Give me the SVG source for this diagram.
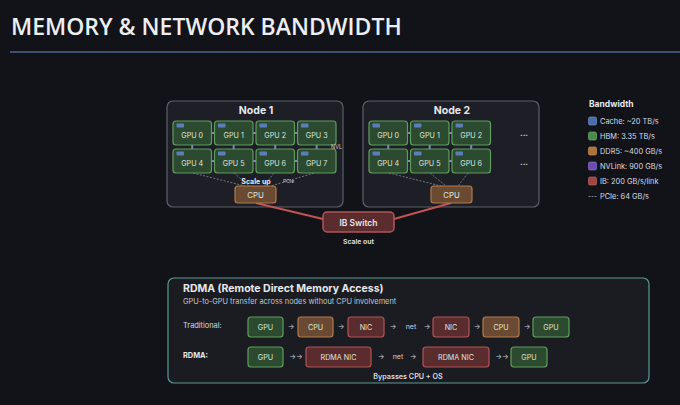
<svg xmlns="http://www.w3.org/2000/svg" width="680" height="405" viewBox="0 0 680 405">
<style>
text{font-family:Inter,"Liberation Sans",sans-serif;fill:#e6e8ec}
.title{font-family:"Open Sans","Noto Sans",sans-serif;font-size:23px;font-weight:600;fill:#eceef2}
.node{fill:#1e1f26;stroke:#5c6068;stroke-width:1.2}
.nt{font-size:10.5px;font-weight:700;text-anchor:middle}
.gpu{fill:#2b4a30;stroke:#5f9e5c;stroke-width:1.2}
.gt{font-size:7.2px;text-anchor:middle;fill:#dfe6df}
.mem{fill:#5a7fb8}
.nvl{stroke:#7f86c8;stroke-width:2}
.pcie{stroke:#8a8d95;stroke-width:0.8;stroke-dasharray:2 1.5;fill:none}
.cpu{fill:#6a4a32;stroke:#b07a4c;stroke-width:1.2}
.nic{fill:#5a2c2e;stroke:#b25456;stroke-width:1.2}
.ib{stroke:#c05456;stroke-width:2;fill:none}
.small{font-size:7.2px;text-anchor:middle}
.lg{font-size:7.4px;fill:#d8dbe0}
.sw{stroke-width:1;}
.arr{font-size:7px;fill:#d0d3d8;text-anchor:middle}
</style>
<rect width="680" height="405" fill="#121319"/>
<text class="title" x="11" y="35">MEMORY &amp; NETWORK BANDWIDTH</text>
<line x1="10" y1="52" x2="680" y2="52" stroke="#4e6590" stroke-width="1.5"/>

<g id="node1">
<rect class="node" x="167" y="101" width="176" height="106" rx="6"/>
<text class="nt" x="256" y="114">Node 1</text>
</g>
<g id="node2">
<rect class="node" x="363" y="101" width="176" height="106" rx="6"/>
<text class="nt" x="452" y="114">Node 2</text>
</g>

<g id="connectors">
<!-- NVLink node1 -->
<line class="nvl" x1="211.5" y1="133" x2="214.5" y2="133"/>
<line class="nvl" x1="253" y1="133" x2="256" y2="133"/>
<line class="nvl" x1="294.5" y1="133" x2="297.5" y2="133"/>
<line class="nvl" x1="211.5" y1="161" x2="214.5" y2="161"/>
<line class="nvl" x1="253" y1="161" x2="256" y2="161"/>
<line class="nvl" x1="294.5" y1="161" x2="297.5" y2="161"/>
<line class="nvl" x1="192.2" y1="145" x2="192.2" y2="149"/>
<line class="nvl" x1="233.7" y1="145" x2="233.7" y2="149"/>
<line class="nvl" x1="275.2" y1="145" x2="275.2" y2="149"/>
<line class="nvl" x1="316.7" y1="145" x2="316.7" y2="149"/>
<!-- NVLink node2 -->
<line class="nvl" x1="407.5" y1="133" x2="410.5" y2="133"/>
<line class="nvl" x1="449" y1="133" x2="452" y2="133"/>
<line class="nvl" x1="407.5" y1="161" x2="410.5" y2="161"/>
<line class="nvl" x1="449" y1="161" x2="452" y2="161"/>
<line class="nvl" x1="388.2" y1="145" x2="388.2" y2="149"/>
<line class="nvl" x1="429.7" y1="145" x2="429.7" y2="149"/>
<line class="nvl" x1="471.2" y1="145" x2="471.2" y2="149"/>
<!-- PCIe node1 -->
<path class="pcie" d="M193 173 L245 186 M234 173 L249 186 M274 173 L264 186 M314 173 L271 186"/>
<!-- PCIe node2 -->
<path class="pcie" d="M389 173 L441 186 M430 173 L446 186 M468 173 L458 186"/>
<!-- IB -->
<path class="ib" d="M256 203 L323 219"/>
<path class="ib" d="M394 219 L451 203"/>
</g>

<g id="node1-gpus">
<g id="n1gpu0"><rect class="gpu" x="173" y="121" width="38.5" height="24" rx="3"/><rect class="mem" x="176.5" y="123.5" width="7.5" height="4" rx="0.8"/><text class="gt" x="192.2" y="138">GPU 0</text></g>
<g id="n1gpu1"><rect class="gpu" x="214.5" y="121" width="38.5" height="24" rx="3"/><rect class="mem" x="218" y="123.5" width="7.5" height="4" rx="0.8"/><text class="gt" x="233.7" y="138">GPU 1</text></g>
<g id="n1gpu2"><rect class="gpu" x="256" y="121" width="38.5" height="24" rx="3"/><rect class="mem" x="259.5" y="123.5" width="7.5" height="4" rx="0.8"/><text class="gt" x="275.2" y="138">GPU 2</text></g>
<g id="n1gpu3"><rect class="gpu" x="297.5" y="121" width="38.5" height="24" rx="3"/><rect class="mem" x="301" y="123.5" width="7.5" height="4" rx="0.8"/><text class="gt" x="316.7" y="138">GPU 3</text></g>
<g id="n1gpu4"><rect class="gpu" x="173" y="149" width="38.5" height="24" rx="3"/><rect class="mem" x="176.5" y="151.5" width="7.5" height="4" rx="0.8"/><text class="gt" x="192.2" y="166">GPU 4</text></g>
<g id="n1gpu5"><rect class="gpu" x="214.5" y="149" width="38.5" height="24" rx="3"/><rect class="mem" x="218" y="151.5" width="7.5" height="4" rx="0.8"/><text class="gt" x="233.7" y="166">GPU 5</text></g>
<g id="n1gpu6"><rect class="gpu" x="256" y="149" width="38.5" height="24" rx="3"/><rect class="mem" x="259.5" y="151.5" width="7.5" height="4" rx="0.8"/><text class="gt" x="275.2" y="166">GPU 6</text></g>
<g id="n1gpu7"><rect class="gpu" x="297.5" y="149" width="38.5" height="24" rx="3"/><rect class="mem" x="301" y="151.5" width="7.5" height="4" rx="0.8"/><text class="gt" x="316.7" y="166">GPU 7</text></g>
<text x="331" y="149" style="font-size:5.5px;fill:#c8cbd4">NVL</text>
<text x="256" y="184" style="font-size:7px;font-weight:700;text-anchor:middle">Scale up</text>
<text x="283" y="182.5" style="font-size:5px;fill:#c8cbd4">PCIe</text>
</g>
<g id="node1-cpu"><rect class="cpu" x="235" y="186" width="41" height="17" rx="3"/><text class="gt" x="255.5" y="197.5" style="font-size:7.8px">CPU</text></g>

<g id="node2-gpus">
<g id="n2gpu0"><rect class="gpu" x="369" y="121" width="38.5" height="24" rx="3"/><rect class="mem" x="372.5" y="123.5" width="7.5" height="4" rx="0.8"/><text class="gt" x="388.2" y="138">GPU 0</text></g>
<g id="n2gpu1"><rect class="gpu" x="410.5" y="121" width="38.5" height="24" rx="3"/><rect class="mem" x="414" y="123.5" width="7.5" height="4" rx="0.8"/><text class="gt" x="429.7" y="138">GPU 1</text></g>
<g id="n2gpu2"><rect class="gpu" x="452" y="121" width="38.5" height="24" rx="3"/><rect class="mem" x="455.5" y="123.5" width="7.5" height="4" rx="0.8"/><text class="gt" x="471.2" y="138">GPU 2</text></g>
<g id="n2gpu4"><rect class="gpu" x="369" y="149" width="38.5" height="24" rx="3"/><rect class="mem" x="372.5" y="151.5" width="7.5" height="4" rx="0.8"/><text class="gt" x="388.2" y="166">GPU 4</text></g>
<g id="n2gpu5"><rect class="gpu" x="410.5" y="149" width="38.5" height="24" rx="3"/><rect class="mem" x="414" y="151.5" width="7.5" height="4" rx="0.8"/><text class="gt" x="429.7" y="166">GPU 5</text></g>
<g id="n2gpu6"><rect class="gpu" x="452" y="149" width="38.5" height="24" rx="3"/><rect class="mem" x="455.5" y="151.5" width="7.5" height="4" rx="0.8"/><text class="gt" x="471.2" y="166">GPU 6</text></g>
<text x="524" y="136" style="font-size:8px;font-weight:700;text-anchor:middle">...</text>
<text x="524" y="165" style="font-size:8px;font-weight:700;text-anchor:middle">...</text>
</g>
<g id="node2-cpu"><rect class="cpu" x="431" y="186" width="41" height="17" rx="3"/><text class="gt" x="451.5" y="197.5" style="font-size:7.8px">CPU</text></g>

<g id="ib-switch"><rect class="nic" x="323" y="212" width="71" height="20" rx="4" style="stroke-width:1.5"/><text x="358.5" y="225.5" style="font-size:8.5px;font-weight:600;text-anchor:middle">IB Switch</text></g>
<text x="358.5" y="244" style="font-size:6.8px;font-weight:700;text-anchor:middle;fill:#d8dbe0">Scale out</text>

<g id="legend">
<text x="589" y="107" style="font-size:8.5px;font-weight:700">Bandwidth</text>
<rect x="588.5" y="117" width="8" height="8" rx="1.5" fill="#4a6fa8" stroke="#7a9ad0" stroke-width="0.6"/><text class="lg" x="600" y="124">Cache: ~20 TB/s</text>
<rect x="588.5" y="132" width="8" height="8" rx="1.5" fill="#4a8a48" stroke="#7ab878" stroke-width="0.6"/><text class="lg" x="600" y="139">HBM: 3.35 TB/s</text>
<rect x="588.5" y="147" width="8" height="8" rx="1.5" fill="#b0703a" stroke="#d09a60" stroke-width="0.6"/><text class="lg" x="600" y="154">DDR5: ~400 GB/s</text>
<rect x="588.5" y="162" width="8" height="8" rx="1.5" fill="#6a4cb0" stroke="#9a80d8" stroke-width="0.6"/><text class="lg" x="600" y="169">NVLink: 900 GB/s</text>
<rect x="588.5" y="177" width="8" height="8" rx="1.5" fill="#a04444" stroke="#c87070" stroke-width="0.6"/><text class="lg" x="600" y="184">IB: 200 GB/s/link</text>
<line x1="588.5" y1="196.5" x2="596.5" y2="196.5" stroke="#9a9da5" stroke-width="0.8" stroke-dasharray="2 1"/><text class="lg" x="600" y="199">PCIe: 64 GB/s</text>
</g>

<g id="rdma">
<rect x="168" y="278" width="481" height="105" rx="6" fill="#1a1c22" stroke="#5a9a92" stroke-width="1.2"/>
<text x="183" y="292" style="font-size:10.5px;font-weight:700">RDMA (Remote Direct Memory Access)</text>
<text x="183" y="304" style="font-size:7.4px;fill:#c4c7cc">GPU-to-GPU transfer across nodes without CPU involvement</text>
<text x="183" y="328" style="font-size:7.4px;fill:#d8dbe0">Traditional:</text>
<text x="183" y="358" style="font-size:7.4px;font-weight:700">RDMA:</text>
<g id="t-gpu1"><rect class="gpu" x="248" y="317" width="35" height="20" rx="3"/><text class="gt" x="265.5" y="330">GPU</text></g>
<text class="arr" x="291" y="329">→</text>
<g id="t-cpu1"><rect class="cpu" x="298" y="317" width="35" height="20" rx="3"/><text class="gt" x="315.5" y="330">CPU</text></g>
<text class="arr" x="341" y="329">→</text>
<g id="t-nic1"><rect class="nic" x="348" y="317" width="36" height="20" rx="3"/><text class="gt" x="366" y="330">NIC</text></g>
<text class="arr" x="393" y="329">→</text>
<text class="arr" x="411" y="329">net</text>
<text class="arr" x="427" y="329">→</text>
<g id="t-nic2"><rect class="nic" x="433" y="317" width="36" height="20" rx="3"/><text class="gt" x="451" y="330">NIC</text></g>
<text class="arr" x="477" y="329">→</text>
<g id="t-cpu2"><rect class="cpu" x="483" y="317" width="36" height="20" rx="3"/><text class="gt" x="501" y="330">CPU</text></g>
<text class="arr" x="527" y="329">→</text>
<g id="t-gpu2"><rect class="gpu" x="533" y="317" width="36" height="20" rx="3"/><text class="gt" x="551" y="330">GPU</text></g>

<g id="r-gpu1"><rect class="gpu" x="248" y="347" width="35" height="20" rx="3"/><text class="gt" x="265.5" y="360">GPU</text></g>
<text class="arr" x="296" y="359">→→</text>
<g id="r-nic1"><rect class="nic" x="306" y="347" width="65" height="20" rx="3"/><text class="gt" x="338.5" y="360">RDMA NIC</text></g>
<text class="arr" x="381" y="359">→</text>
<text class="arr" x="398" y="359">net</text>
<text class="arr" x="413" y="359">→</text>
<g id="r-nic2"><rect class="nic" x="423" y="347" width="66" height="20" rx="3"/><text class="gt" x="456" y="360">RDMA NIC</text></g>
<text class="arr" x="502" y="359">→→</text>
<g id="r-gpu2"><rect class="gpu" x="511" y="347" width="36" height="20" rx="3"/><text class="gt" x="529" y="360">GPU</text></g>
<text x="408" y="379" style="font-size:7.2px;font-weight:600;text-anchor:middle;fill:#d8dbe0">Bypasses CPU + OS</text>
</g>
</svg>
